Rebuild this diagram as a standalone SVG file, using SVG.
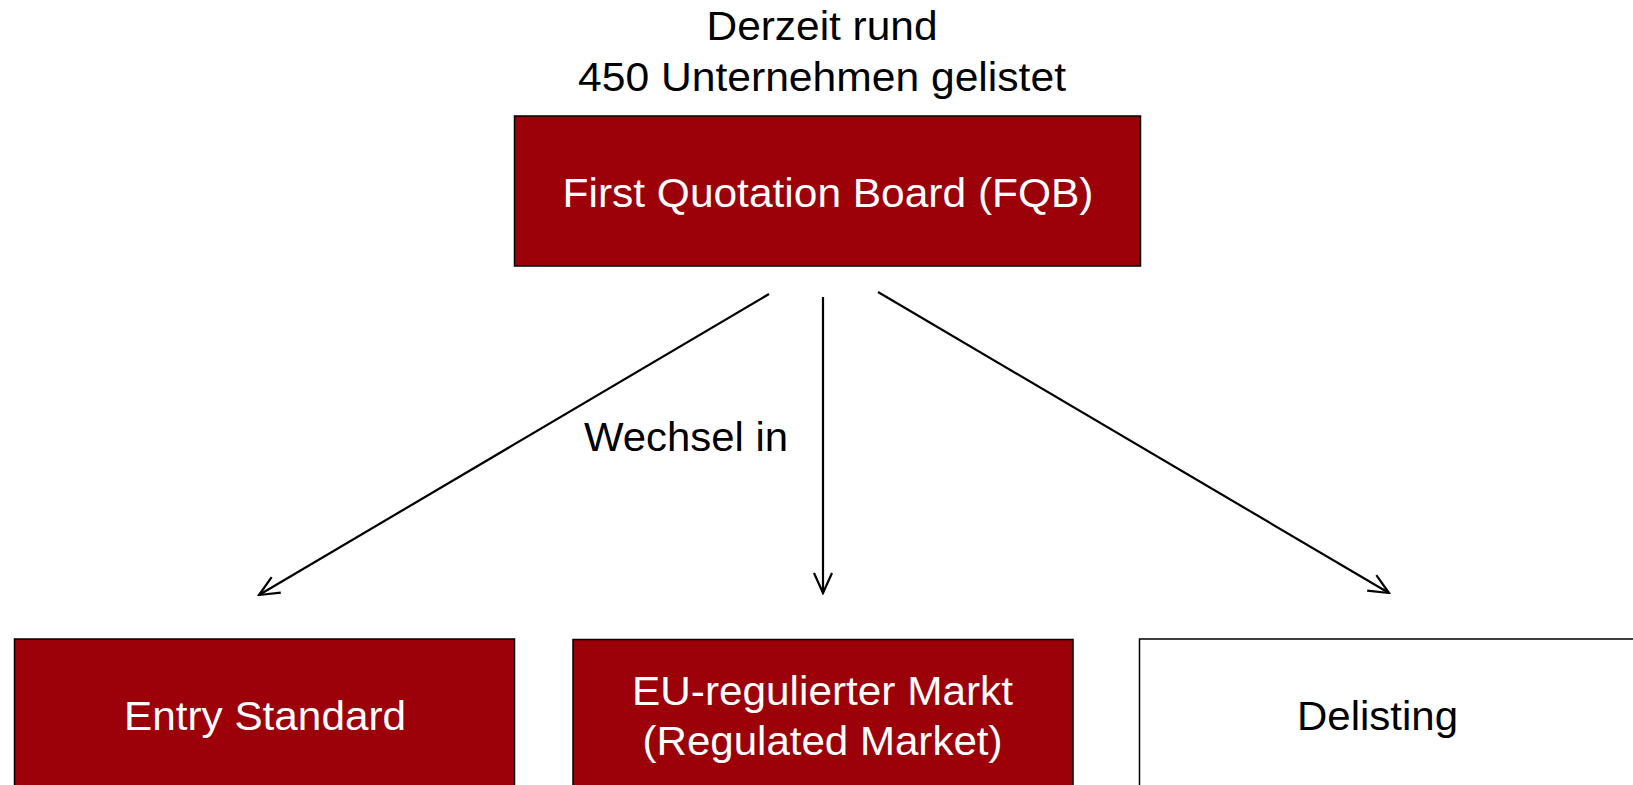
<svg xmlns="http://www.w3.org/2000/svg" width="1633" height="785" viewBox="0 0 1633 785">
<style>
.box{fill:#9C0009;stroke:#000;stroke-width:1.5}
.wbox{fill:#fff;stroke:#000;stroke-width:1.5}
.t{font-family:"Liberation Sans",Arial,sans-serif;font-size:40px;text-anchor:middle}
.w{fill:#fff}
.k{fill:#000}
.c{stroke:#000;stroke-width:2.2;fill:none;marker-end:url(#ah)}
</style>
<defs>
<marker id="ah" markerUnits="userSpaceOnUse" viewBox="0 0 24 22" refX="22" refY="11" markerWidth="24" markerHeight="22" orient="auto">
<path d="M2,2 L22,11 L2,20" fill="none" stroke="#000" stroke-width="2.2"/>
</marker>
</defs>
<rect width="1633" height="785" fill="#fff"/>
<g id="caption">
<text class="t k" x="822" y="40" textLength="231" lengthAdjust="spacingAndGlyphs">Derzeit rund</text>
<text class="t k" x="822" y="91" textLength="488" lengthAdjust="spacingAndGlyphs">450 Unternehmen gelistet</text>
</g>
<g id="fqb">
<rect class="box" x="514.5" y="116" width="626" height="150"/>
<text class="t w" x="828" y="207" textLength="531" lengthAdjust="spacingAndGlyphs">First Quotation Board (FQB)</text>
</g>
<g id="entry">
<rect class="box" x="14.5" y="639" width="500" height="170"/>
<text class="t w" x="265" y="730" textLength="282" lengthAdjust="spacingAndGlyphs">Entry Standard</text>
</g>
<g id="regulated">
<rect class="box" x="573" y="639.5" width="500" height="170"/>
<text class="t w" x="822.5" y="705" textLength="381" lengthAdjust="spacingAndGlyphs">EU-regulierter Markt</text>
<text class="t w" x="822.5" y="755" textLength="360" lengthAdjust="spacingAndGlyphs">(Regulated Market)</text>
</g>
<g id="delisting">
<rect class="wbox" x="1139.5" y="639" width="520" height="170"/>
<text class="t k" x="1377.5" y="730" textLength="161" lengthAdjust="spacingAndGlyphs">Delisting</text>
</g>
<g id="connectors">
<line class="c" x1="769" y1="294" x2="259" y2="595"/>
<line class="c" x1="823" y1="297" x2="823" y2="593"/>
<line class="c" x1="878" y1="292" x2="1389" y2="593"/>
<text class="t k" x="686" y="451" textLength="204" lengthAdjust="spacingAndGlyphs">Wechsel in</text>
</g>
</svg>
